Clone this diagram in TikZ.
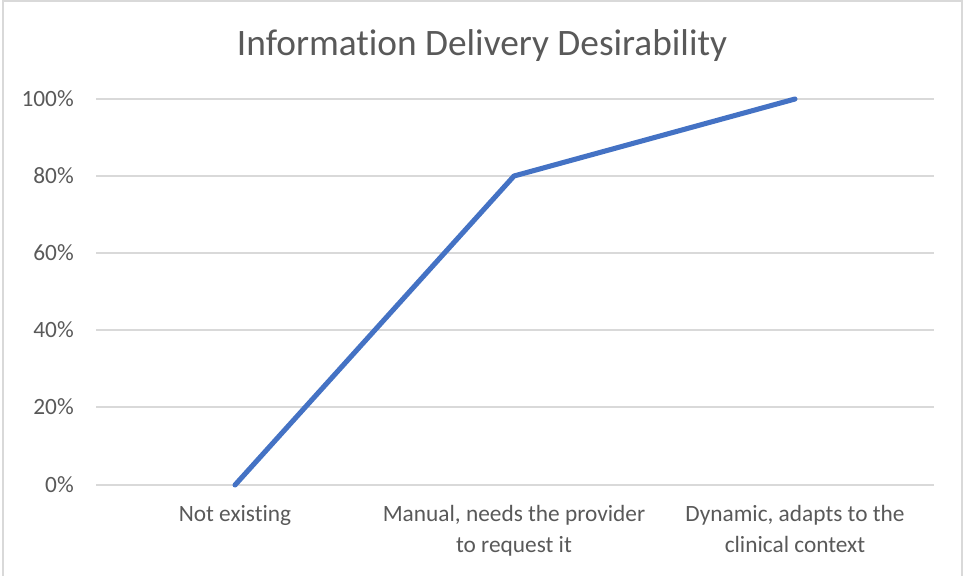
\documentclass[tikz,border=0pt]{standalone}
\usepackage{fontspec}
\setmainfont{Carlito}[Ligatures=NoCommon]
\definecolor{txtgray}{HTML}{595959}
\definecolor{gridgray}{HTML}{D9D9D9}
\definecolor{seriesblue}{HTML}{4472C4}
\begin{document}
\begin{tikzpicture}[x=0.75pt,y=-0.75pt,
  ticklabel/.style={text=txtgray,font=\fontsize{17.5}{21}\selectfont,anchor=east,inner sep=0pt},
  catlabel/.style={text=txtgray,font=\fontsize{17.5}{23}\selectfont,align=center,anchor=north,inner sep=0pt},
  grid line/.style={draw=gridgray,line width=1.2pt},
  series/.style={draw=seriesblue,line width=3.8pt,line cap=round,line join=round}]
\useasboundingbox (0,0) rectangle (964,575);
\draw[draw=gridgray,line width=1.5pt] (3,1) rectangle (962,580);
% title
\node[text=txtgray,font=\fontsize{28}{33}\selectfont,inner sep=0pt] (title) at (482,46) {Information Delivery Desirability};
% horizontal grid and value axis labels
\foreach \v/\yy in {0/485,20/407,40/330,60/253,80/176,100/99}{
  \draw[grid line] (96,\yy) -- (934,\yy);
  \node[ticklabel] (y\v) at (74,\yy) {\v\%};
}
% category labels
\node[catlabel] (c1) at (235,505) {Not existing};
\node[catlabel] (c2) at (514,505) {Manual, needs the provider\\to request it};
\node[catlabel] (c3) at (795,505) {Dynamic, adapts to the\\clinical context};
% data series
\coordinate (p1) at (235,485);
\coordinate (p2) at (514,176);
\coordinate (p3) at (795,99);
\draw[series] (p1) -- (p2) -- (p3);
\end{tikzpicture}
\end{document}
